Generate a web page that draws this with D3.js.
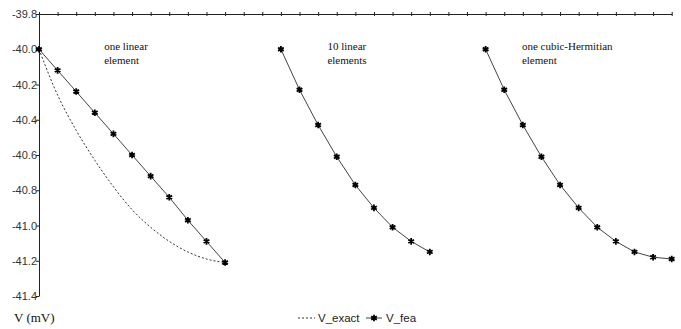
<!DOCTYPE html>
<html><head><meta charset="utf-8">
<script src="https://cdn.jsdelivr.net/npm/d3@7"></script>
<style>body{margin:0;background:#fff}svg{display:block}</style>
</head><body>
<script>
// ---- data ----
const yTicks = [-39.8,-40.0,-40.2,-40.4,-40.6,-40.8,-41.0,-41.2,-41.4];
const xTicks = [0,1,2,3,4,5,6,7,8,9,10,11,12,13,14,15,16,17,18,19,20,21,22,23,24,25,26,27,28,29,30,31,32,33,34];
const x1 = [0,1,2,3,4,5,6,7,8,9,10];
const fea1 = [-40.00,-40.12,-40.24,-40.36,-40.48,-40.60,-40.72,-40.84,-40.97,-41.09,-41.21];
const exact1 = [-40.00,-40.26,-40.46,-40.63,-40.78,-40.91,-41.01,-41.09,-41.15,-41.19,-41.21];
const x2 = [13,14,15,16,17,18,19,20,21];
const fea2 = [-40.00,-40.23,-40.43,-40.61,-40.77,-40.90,-41.01,-41.09,-41.15];
const x3 = [24,25,26,27,28,29,30,31,32,33,34];
const fea3 = [-40.00,-40.23,-40.43,-40.61,-40.77,-40.90,-41.01,-41.09,-41.15,-41.18,-41.19];
const labels = [
  {x:3.5, lines:["one linear","element"]},
  {x:15.5, lines:["10 linear","elements"]},
  {x:25.95, lines:["one cubic-Hermitian","element"]}
];
const yTitle = "V (mV)";
const legendNames = ["V_exact","V_fea"];

// ---- chart ----
const SERIF = "'Liberation Serif', 'Times New Roman', serif";
const SANS = "'Liberation Sans', Arial, sans-serif";
const W=681,H=329;
const svg=d3.select("body").append("svg").attr("width",W).attr("height",H);
const x=d3.scaleLinear().domain([0,34]).range([39,671.7]);
const y=d3.scaleLinear().domain([-41.4,-39.8]).range([296,14]);

// left axis
const ga=svg.append("g").attr("transform","translate(39,0)")
  .call(d3.axisLeft(y).tickValues(yTicks).tickSize(3).tickSizeOuter(0).tickFormat(d=>d.toFixed(1)));
ga.select(".domain").attr("stroke","#222");
ga.selectAll(".tick line").attr("stroke","#222");
ga.selectAll(".tick text").style("font-family",SANS).style("font-size","11px").attr("fill","#333").attr("x",-2);

// top axis at y=-39.8
const gt=svg.append("g").attr("transform",`translate(0,${y(-39.8)})`)
  .call(d3.axisTop(x).tickValues(xTicks).tickSize(2).tickSizeOuter(0).tickFormat(""));
gt.select(".domain").attr("stroke","#222");
gt.selectAll(".tick line").attr("stroke","#222").attr("y1",2).attr("y2",-2);

const line=d3.line().x(d=>x(d[0])).y(d=>y(d[1]));
const smooth=d3.line().x(d=>x(d[0])).y(d=>y(d[1])).curve(d3.curveMonotoneX);

// exact (dashed)
svg.append("path").datum(x1.map((v,i)=>[v,exact1[i]])).attr("d",smooth)
  .attr("fill","none").attr("stroke","#333").attr("stroke-width",1).attr("stroke-dasharray","2,2");

const star=d3.symbol().type(d3.symbolAsterisk).size(30);
[[x1,fea1],[x2,fea2],[x3,fea3]].forEach(([xs,vs])=>{
  const pts=xs.map((v,i)=>[v,vs[i]]);
  svg.append("path").datum(pts).attr("d",line).attr("fill","none").attr("stroke","#444").attr("stroke-width",1);
  svg.append("g").selectAll("path").data(pts).join("path")
    .attr("transform",d=>`translate(${x(d[0])},${y(d[1])})`)
    .attr("d",star).attr("fill","none").attr("stroke","#000").attr("stroke-width",1.8);
});

// annotations
labels.forEach(l=>{
  const t=svg.append("text").attr("x",x(l.x)).attr("y",50)
    .style("font-family",SERIF).style("font-size","11px").attr("fill","#111");
  l.lines.forEach((s,i)=>t.append("tspan").attr("x",x(l.x)).attr("dy",i?14:0).text(s));
});

// y title
svg.append("text").attr("x",14).attr("y",322).text(yTitle)
  .style("font-family",SERIF).style("font-size","13px").attr("fill","#111");

// legend
const lg=svg.append("g");
lg.append("line").attr("x1",298).attr("x2",315).attr("y1",318).attr("y2",318)
  .attr("stroke","#333").attr("stroke-dasharray","2,2");
lg.append("text").attr("x",318).attr("y",322).text(legendNames[0])
  .style("font-family",SANS).style("font-size","11.5px").attr("fill","#222");
lg.append("line").attr("x1",366).attr("x2",382).attr("y1",318).attr("y2",318).attr("stroke","#444");
lg.append("path").attr("transform","translate(374,318)").attr("d",star).attr("fill","none").attr("stroke","#000").attr("stroke-width",1.8);
lg.append("text").attr("x",386).attr("y",322).text(legendNames[1])
  .style("font-family",SANS).style("font-size","11.5px").attr("fill","#222");
</script>
</body></html>
